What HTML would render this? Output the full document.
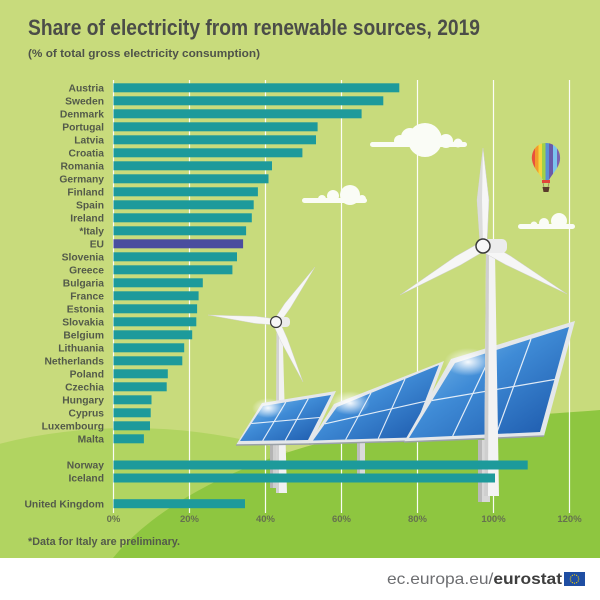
<!DOCTYPE html>
<html><head><meta charset="utf-8">
<style>html,body{margin:0;padding:0;background:#fff;width:600px;height:600px;overflow:hidden}svg{display:block}</style>
</head><body>
<svg width="600" height="600" viewBox="0 0 600 600" xmlns="http://www.w3.org/2000/svg" font-family="'Liberation Sans', sans-serif">
<defs>
  <linearGradient id="pb" x1="0" y1="0" x2="1" y2="1">
    <stop offset="0" stop-color="#8ecbf2"/>
    <stop offset="0.45" stop-color="#3f8bd6"/>
    <stop offset="1" stop-color="#1a55a8"/>
  </linearGradient>
  <radialGradient id="glare" cx="0.5" cy="0.5" r="0.5">
    <stop offset="0" stop-color="#ffffff" stop-opacity="0.95"/>
    <stop offset="1" stop-color="#ffffff" stop-opacity="0"/>
  </radialGradient>
  <clipPath id="balloonClip">
    <path d="M546,143 C556,143 561,152 560,160 C559,168 552,174 549,180 L543,180 C540,174 533,168 532,160 C531,152 536,143 546,143 Z"/>
  </clipPath>
</defs>

<!-- background -->
<rect x="0" y="0" width="600" height="600" fill="#ffffff"/>
<rect x="0" y="0" width="600" height="558" fill="#c8db7c"/>
<path d="M0,558 L0,443.7 A320,182 0 0 1 436.7,558 Z" fill="#b1d461"/>
<path d="M113,558 C160,500 260,450 380,430 C460,418 540,415 600,410 L600,558 Z" fill="#8ec640"/>

<!-- gridlines -->
<g stroke="#ffffff" stroke-width="1.2" opacity="0.95">
  <line x1="113.5" y1="80" x2="113.5" y2="513"/>
  <line x1="189.5" y1="80" x2="189.5" y2="513"/>
  <line x1="265.5" y1="80" x2="265.5" y2="513"/>
  <line x1="341.5" y1="80" x2="341.5" y2="513"/>
  <line x1="417.5" y1="80" x2="417.5" y2="513"/>
  <line x1="493.5" y1="80" x2="493.5" y2="513"/>
  <line x1="569.5" y1="80" x2="569.5" y2="513"/>
</g>

<!-- clouds -->
<g fill="#fafcf6">
  <circle cx="400" cy="141" r="6"/>
  <circle cx="410" cy="137" r="9"/>
  <circle cx="425" cy="140" r="17"/>
  <circle cx="446" cy="141" r="7"/>
  <circle cx="458" cy="143" r="4.5"/>
  <rect x="370" y="142" width="97" height="5" rx="2.5"/>

  <circle cx="333" cy="196" r="6"/>
  <circle cx="350" cy="195" r="10"/>
  <circle cx="362" cy="199" r="4"/>
  <rect x="302" y="198" width="65" height="5" rx="2.5"/>
  <circle cx="322" cy="199" r="4"/>

  <circle cx="544" cy="223" r="5"/>
  <circle cx="559" cy="221" r="8"/>
  <circle cx="534" cy="225" r="3.5"/>
  <rect x="518" y="224" width="57" height="5" rx="2.5"/>
</g>

<!-- balloon -->
<g clip-path="url(#balloonClip)">
  <rect x="530" y="140" width="5" height="45" fill="#e9503c"/>
  <rect x="535" y="140" width="3.5" height="45" fill="#f39a2b"/>
  <rect x="538.5" y="140" width="3.5" height="45" fill="#f3d83f"/>
  <rect x="542" y="140" width="3.5" height="45" fill="#9fd04a"/>
  <rect x="545.5" y="140" width="3.5" height="45" fill="#5a8fd6"/>
  <rect x="549" y="140" width="4" height="45" fill="#6a5aa8"/>
  <rect x="553" y="140" width="4" height="45" fill="#7cc4ee"/>
  <rect x="557" y="140" width="5" height="45" fill="#7a63b0"/>
</g>
<rect x="542" y="180" width="8" height="3" fill="#e2463a"/>
<line x1="543" y1="183" x2="544" y2="187" stroke="#8a6a50" stroke-width="0.6"/>
<line x1="549" y1="183" x2="548" y2="187" stroke="#8a6a50" stroke-width="0.6"/>
<path d="M542.5,187 L549.5,187 L548.5,192 L543.5,192 Z" fill="#5a3b2b"/>

<!-- solar panel posts -->
<rect x="270" y="443" width="7" height="45" fill="#cfcfcf"/>
<rect x="270" y="443" width="3" height="45" fill="#b4b4b4"/>
<rect x="357" y="441" width="8" height="33" fill="#dadada"/>
<rect x="357" y="441" width="3" height="33" fill="#bdbdbd"/>
<rect x="478" y="440" width="12" height="62" fill="#d8d8d8"/>
<rect x="478" y="440" width="4" height="62" fill="#b9b9b9"/>

<!-- small turbine tower (behind panel 1) -->
<polygon points="276.5,328 282.5,328 287,493 276,493" fill="#f1f1f1"/>
<polygon points="276.5,328 279,328 279,493 276,493" fill="#d2d2d2"/>

<!-- panel 1 -->
<polygon points="236,445 311,444 336,391 262,403" fill="#e4e7ea"/>
<line x1="236" y1="445" x2="311" y2="444" stroke="#9aa1a8" stroke-width="1.5"/>
<polygon points="240,441 308,440 331,395 263,406" fill="url(#pb)"/>
<g stroke="#ffffff" stroke-width="1.1" opacity="0.85">
  <line x1="285.7" y1="402.3" x2="262.7" y2="440.7"/>
  <line x1="308.3" y1="398.7" x2="285.3" y2="440.3"/>
  <line x1="251.5" y1="423.5" x2="319.5" y2="417.5"/>
</g>
<ellipse cx="268" cy="408" rx="16" ry="10" fill="url(#glare)"/>

<!-- panel 2 -->
<polygon points="309,444 414,441 444,361 334,404" fill="#e4e7ea"/>
<line x1="309" y1="444" x2="414" y2="441" stroke="#9aa1a8" stroke-width="1.5"/>
<polygon points="313,440.5 411,437.5 439,365 337,407" fill="url(#pb)"/>
<g stroke="#ffffff" stroke-width="1.1" opacity="0.85">
  <line x1="371" y1="393" x2="345.7" y2="439.5"/>
  <line x1="405" y1="379" x2="378.3" y2="438.5"/>
  <line x1="325" y1="423.8" x2="425" y2="401.3"/>
</g>
<ellipse cx="350" cy="403" rx="20" ry="12" fill="url(#glare)"/>

<!-- panel 3 -->
<polygon points="404,442 544,436 575,321 451,359" fill="#e4e7ea"/>
<line x1="404" y1="442" x2="544" y2="436" stroke="#9aa1a8" stroke-width="1.6"/>
<polygon points="409,438 540,432 569,327 455,363" fill="url(#pb)"/>
<g stroke="#ffffff" stroke-width="1.2" opacity="0.85">
  <line x1="493" y1="351" x2="452.7" y2="436"/>
  <line x1="531" y1="339" x2="496.3" y2="434"/>
  <line x1="432" y1="400.5" x2="554.5" y2="379.5"/>
</g>
<ellipse cx="468" cy="362" rx="24" ry="14" fill="url(#glare)"/>

<!-- small turbine blades / hub -->
<g fill="#f6f6f6" stroke="#d0d0d0" stroke-width="0.4">
  <polygon points="276,319 256,316.4 208,315 255.2,323.4 276,325"/>
  <polygon points="274,320 284.8,303.5 315,267 290.6,307.5 279,324"/>
  <polygon points="273,324 280.9,341.4 303,382 287.3,338.6 279,320"/>
</g>
<rect x="271" y="317" width="19" height="10" rx="4" fill="#ececec"/>
<circle cx="276" cy="322" r="5.5" fill="#f7f7f7" stroke="#3a3a3a" stroke-width="1.2"/>

<!-- big turbine tower (in front of panel 3) -->
<polygon points="486,252 495,252 499,496 484,496" fill="#f3f3f3"/>
<polygon points="486,252 489,252 488,496 484,496" fill="#cfcfcf"/>

<!-- big turbine blades -->
<g fill="#f6f6f6" stroke="#cfcfcf" stroke-width="0.5">
  <polygon points="480,244 477,200 483,148 489,200 487,244"/>
  <polygon points="481,242 455.6,256.4 400,295 460.6,265 486,250"/>
  <polygon points="485,241 510.7,256.1 567,294 505.7,264.7 481,251"/>
</g>
<polygon points="480,244 477,200 483,148 482,200 483,244" fill="#dcdcdc"/>
<rect x="479" y="239" width="28" height="14" rx="5" fill="#ececec"/>
<circle cx="483" cy="246" r="7" fill="#f7f7f7" stroke="#3a3a3a" stroke-width="1.5"/>

<!-- title -->
<text x="28" y="35" font-size="22.5" font-weight="bold" fill="#4b4d48" textLength="452" lengthAdjust="spacingAndGlyphs">Share of electricity from renewable sources, 2019</text>
<text x="28" y="57" font-size="11" font-weight="bold" fill="#4f5349" textLength="232" lengthAdjust="spacingAndGlyphs">(% of total gross electricity consumption)</text>

<!-- bars -->
<g fill="#1d9a9b">
  <rect x="113.5" y="83.3" width="285.8" height="9"/>
  <rect x="113.5" y="96.3" width="269.8" height="9"/>
  <rect x="113.5" y="109.3" width="248.1" height="9"/>
  <rect x="113.5" y="122.3" width="204.1" height="9"/>
  <rect x="113.5" y="135.3" width="202.5" height="9"/>
  <rect x="113.5" y="148.3" width="188.9" height="9"/>
  <rect x="113.5" y="161.3" width="158.5" height="9"/>
  <rect x="113.5" y="174.3" width="155.0" height="9"/>
  <rect x="113.5" y="187.3" width="144.4" height="9"/>
  <rect x="113.5" y="200.3" width="140.2" height="9"/>
  <rect x="113.5" y="213.3" width="138.3" height="9"/>
  <rect x="113.5" y="226.3" width="132.6" height="9"/>
  <rect x="113.5" y="252.3" width="123.5" height="9"/>
  <rect x="113.5" y="265.3" width="118.9" height="9"/>
  <rect x="113.5" y="278.3" width="89.3" height="9"/>
  <rect x="113.5" y="291.3" width="85.1" height="9"/>
  <rect x="113.5" y="304.3" width="83.6" height="9"/>
  <rect x="113.5" y="317.3" width="82.8" height="9"/>
  <rect x="113.5" y="330.3" width="78.7" height="9"/>
  <rect x="113.5" y="343.3" width="70.7" height="9"/>
  <rect x="113.5" y="356.3" width="68.8" height="9"/>
  <rect x="113.5" y="369.3" width="54.3" height="9"/>
  <rect x="113.5" y="382.3" width="53.2" height="9"/>
  <rect x="113.5" y="395.3" width="38.0" height="9"/>
  <rect x="113.5" y="408.3" width="37.2" height="9"/>
  <rect x="113.5" y="421.3" width="36.5" height="9"/>
  <rect x="113.5" y="434.3" width="30.4" height="9"/>
  <rect x="113.5" y="460.5" width="414.2" height="9"/>
  <rect x="113.5" y="473.5" width="381.5" height="9"/>
  <rect x="113.5" y="499.2" width="131.5" height="9"/>
</g>
<rect x="113.5" y="239.3" width="129.6" height="9" fill="#4a4d9e"/>

<!-- country labels -->
<g font-size="10.3" font-weight="bold" fill="#535a4a" text-anchor="end">
  <text x="104" y="91.5">Austria</text>
  <text x="104" y="104.5">Sweden</text>
  <text x="104" y="117.5">Denmark</text>
  <text x="104" y="130.5">Portugal</text>
  <text x="104" y="143.5">Latvia</text>
  <text x="104" y="156.5">Croatia</text>
  <text x="104" y="169.5">Romania</text>
  <text x="104" y="182.5">Germany</text>
  <text x="104" y="195.5">Finland</text>
  <text x="104" y="208.5">Spain</text>
  <text x="104" y="221.5">Ireland</text>
  <text x="104" y="234.5">*Italy</text>
  <text x="104" y="247.5">EU</text>
  <text x="104" y="260.5">Slovenia</text>
  <text x="104" y="273.5">Greece</text>
  <text x="104" y="286.5">Bulgaria</text>
  <text x="104" y="299.5">France</text>
  <text x="104" y="312.5">Estonia</text>
  <text x="104" y="325.5">Slovakia</text>
  <text x="104" y="338.5">Belgium</text>
  <text x="104" y="351.5">Lithuania</text>
  <text x="104" y="364.5">Netherlands</text>
  <text x="104" y="377.5">Poland</text>
  <text x="104" y="390.5">Czechia</text>
  <text x="104" y="403.5">Hungary</text>
  <text x="104" y="416.5">Cyprus</text>
  <text x="104" y="429.5">Luxembourg</text>
  <text x="104" y="442.5">Malta</text>
  <text x="104" y="468.7">Norway</text>
  <text x="104" y="481.5">Iceland</text>
  <text x="104" y="507.4">United Kingdom</text>
</g>

<!-- axis tick labels -->
<g font-size="9.5" font-weight="bold" fill="#66714f" text-anchor="middle">
  <text x="113.5" y="522">0%</text>
  <text x="189.5" y="522">20%</text>
  <text x="265.5" y="522">40%</text>
  <text x="341.5" y="522">60%</text>
  <text x="417.5" y="522">80%</text>
  <text x="493.5" y="522">100%</text>
  <text x="569.5" y="522">120%</text>
</g>

<!-- footnote -->
<text x="28" y="545" font-size="11" font-weight="bold" fill="#535a4a" textLength="152" lengthAdjust="spacingAndGlyphs">*Data for Italy are preliminary.</text>

<!-- footer -->
<text x="387" y="584" font-size="16" fill="#6d6e71" textLength="175" lengthAdjust="spacingAndGlyphs">ec.europa.eu/<tspan font-weight="bold" fill="#3e3e3e">eurostat</tspan></text>
<rect x="564" y="572" width="21" height="14" fill="#1f4ea3"/>
<g fill="#f4d000">
  <circle cx="574.5" cy="574.8" r="0.6"/>
  <circle cx="576.6" cy="575.4" r="0.6"/>
  <circle cx="578.2" cy="577" r="0.6"/>
  <circle cx="578.7" cy="579" r="0.6"/>
  <circle cx="578.2" cy="581" r="0.6"/>
  <circle cx="576.6" cy="582.6" r="0.6"/>
  <circle cx="574.5" cy="583.2" r="0.6"/>
  <circle cx="572.4" cy="582.6" r="0.6"/>
  <circle cx="570.8" cy="581" r="0.6"/>
  <circle cx="570.3" cy="579" r="0.6"/>
  <circle cx="570.8" cy="577" r="0.6"/>
  <circle cx="572.4" cy="575.4" r="0.6"/>
</g>
</svg>
</body></html>
